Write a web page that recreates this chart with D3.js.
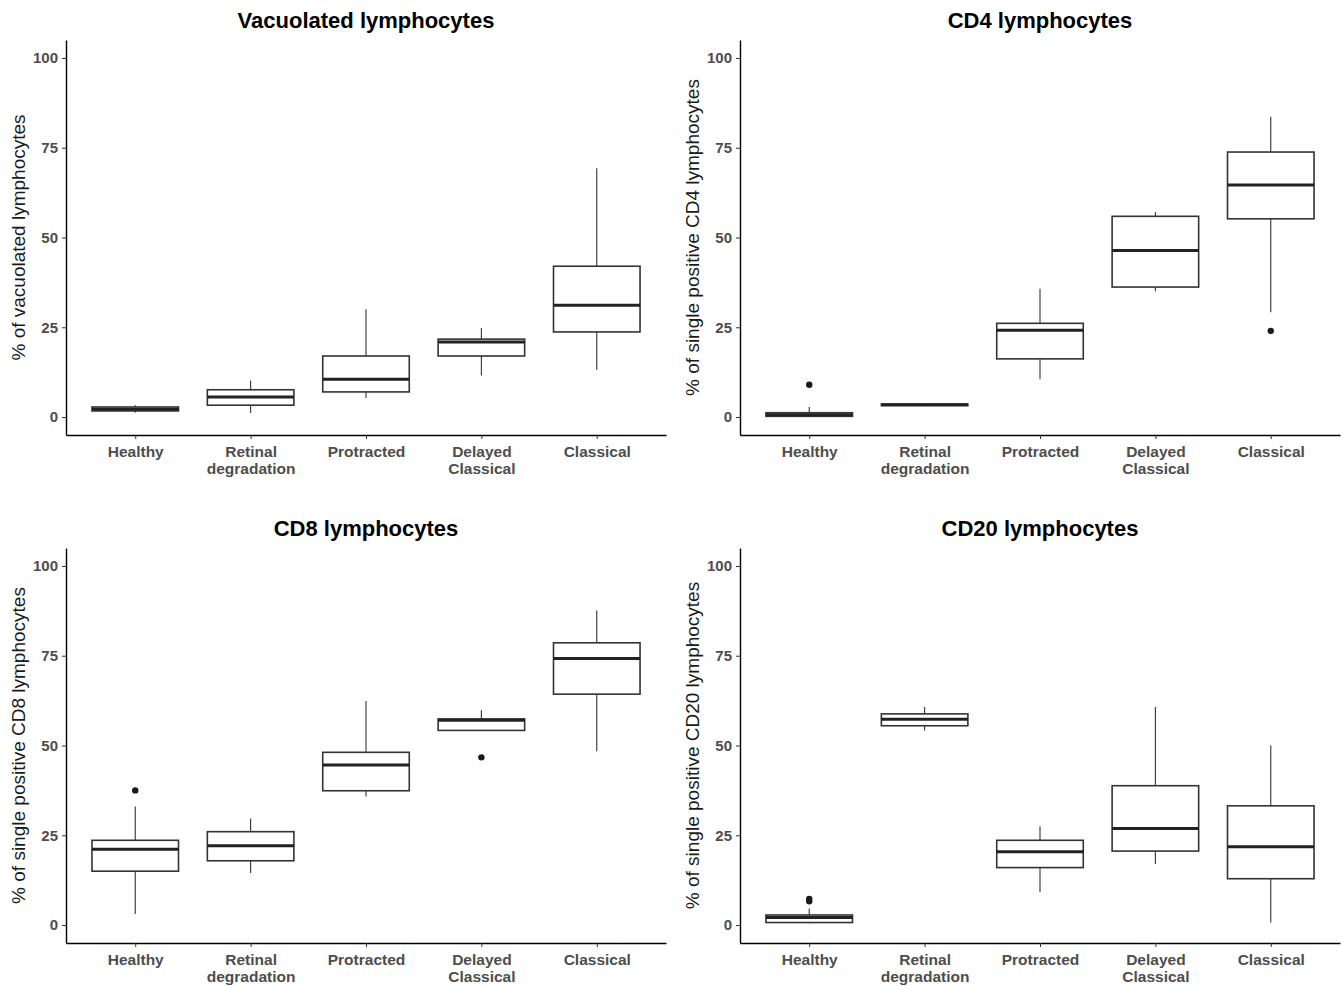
<!DOCTYPE html>
<html>
<head>
<meta charset="utf-8">
<script src="https://cdn.jsdelivr.net/npm/d3@7"></script>
<style>
  body { margin: 0; background: #fff; }
  .tick-lab { font-family: "Liberation Sans", Arial, sans-serif; font-weight: 700; fill: #4d4d4d; }
  .ytitle { font-family: "Liberation Sans", Arial, sans-serif; font-size: 19px; fill: #1a1a1a; }
  .ptitle { font-family: "Liberation Sans", Arial, sans-serif; font-size: 22px; font-weight: 700; fill: #000; }
</style>
</head>
<body>
<script>
// Disease groups on the x axis ("\n" marks a line break in the tick label)
const categories = ["Healthy", "Retinal\ndegradation", "Protracted", "Delayed\nClassical", "Classical"];
const yTicks = [0, 25, 50, 75, 100];

// Box stats per group: [lower whisker, Q1, median, Q3, upper whisker]
const vacuolatedBoxes = [
  [1.2, 1.7, 2.2, 2.8, 3.3],
  [1.1, 3.3, 5.6, 7.6, 10.2],
  [5.3, 7.0, 10.5, 17.0, 30.0],
  [11.6, 17.0, 20.9, 21.7, 24.8],
  [13.2, 23.7, 31.1, 42.0, 69.3],
];
const vacuolatedOutliers = [[], [], [], [], []];

const cd4Boxes = [
  [0.2, 0.2, 0.65, 1.2, 2.8],
  [3.1, 3.2, 3.4, 3.6, 3.7],
  [10.5, 16.2, 24.2, 26.1, 35.7],
  [35.0, 36.2, 46.4, 55.9, 57.1],
  [29.2, 55.2, 64.6, 73.8, 83.6],
];
const cd4Outliers = [[9.0], [], [], [], [24.0]];

const cd8Boxes = [
  [3.1, 15.0, 21.1, 23.6, 33.0],
  [14.5, 17.9, 22.1, 26.0, 29.7],
  [35.8, 37.4, 44.6, 48.1, 62.4],
  [54.2, 54.2, 57.0, 57.4, 59.8],
  [48.4, 64.3, 74.2, 78.6, 87.6],
];
const cd8Outliers = [[37.5], [], [], [46.7], []];

const cd20Boxes = [
  [0.5, 0.7, 2.1, 2.8, 4.6],
  [54.2, 55.5, 57.3, 58.8, 60.7],
  [9.1, 16.0, 20.4, 23.6, 27.5],
  [17.0, 20.6, 26.9, 38.8, 60.7],
  [0.7, 12.9, 21.8, 33.2, 50.0],
];
const cd20Outliers = [[6.6, 7.3], [], [], [], []];

const panels = [
  { title: "Vacuolated lymphocytes", yLabel: "% of vacuolated lymphocytes", boxes: vacuolatedBoxes, outliers: vacuolatedOutliers },
  { title: "CD4 lymphocytes", yLabel: "% of single positive CD4 lymphocytes", boxes: cd4Boxes, outliers: cd4Outliers },
  { title: "CD8 lymphocytes", yLabel: "% of single positive CD8 lymphocytes", boxes: cd8Boxes, outliers: cd8Outliers },
  { title: "CD20 lymphocytes", yLabel: "% of single positive CD20 lymphocytes", boxes: cd20Boxes, outliers: cd20Outliers },
];

const W = 1343, H = 986;
const iw = 600, ih = 395;
const origins = [[66, 40], [740, 40], [66, 548], [740, 548]];

const svg = d3.select("body").append("svg").attr("width", W).attr("height", H);

const x = d3.scalePoint().domain(categories).range([0, iw]).padding(0.6);
const y = d3.scaleLinear().domain([-5, 105]).range([ih, 0]);
const bw = x.step() * 0.75;

panels.forEach((p, i) => {
  const [ox, oy] = origins[i];
  const g = svg.append("g").attr("transform", `translate(${ox},${oy})`);

  // boxes
  const rows = categories.map((c, k) => ({ c, s: p.boxes[k], out: p.outliers[k] }));
  const bx = g.selectAll("g.box").data(rows).join("g").attr("class", "box");
  bx.append("line")
    .attr("x1", (d) => x(d.c)).attr("x2", (d) => x(d.c))
    .attr("y1", (d) => y(d.s[4])).attr("y2", (d) => y(d.s[3]))
    .attr("stroke", "#333").attr("stroke-width", 1.1);
  bx.append("line")
    .attr("x1", (d) => x(d.c)).attr("x2", (d) => x(d.c))
    .attr("y1", (d) => y(d.s[1])).attr("y2", (d) => y(d.s[0]))
    .attr("stroke", "#333").attr("stroke-width", 1.1);
  bx.append("rect")
    .attr("x", (d) => x(d.c) - bw / 2).attr("width", bw)
    .attr("y", (d) => y(d.s[3])).attr("height", (d) => y(d.s[1]) - y(d.s[3]))
    .attr("fill", "#fff").attr("stroke", "#333").attr("stroke-width", 1.6);
  bx.append("line")
    .attr("x1", (d) => x(d.c) - bw / 2).attr("x2", (d) => x(d.c) + bw / 2)
    .attr("y1", (d) => y(d.s[2])).attr("y2", (d) => y(d.s[2]))
    .attr("stroke", "#222").attr("stroke-width", 3);
  bx.selectAll("circle").data((d) => d.out.map((v) => ({ c: d.c, v }))).join("circle")
    .attr("cx", (d) => x(d.c)).attr("cy", (d) => y(d.v)).attr("r", 3.2).attr("fill", "#1a1a1a");

  // axes
  const ya = g.append("g").call(d3.axisLeft(y).tickValues(yTicks).tickSize(4).tickSizeOuter(0).tickPadding(4));
  ya.select(".domain").attr("stroke", "#000").attr("stroke-width", 1.4);
  ya.selectAll(".tick line").attr("stroke", "#333");
  ya.selectAll(".tick text").attr("class", "tick-lab").attr("font-size", 15).attr("fill", null);

  const xa = g.append("g").attr("transform", `translate(0,${ih})`)
    .call(d3.axisBottom(x).tickSize(4).tickSizeOuter(0).tickPadding(5).tickFormat(""));
  xa.select(".domain").attr("stroke", "#000").attr("stroke-width", 1.4);
  xa.selectAll(".tick line").attr("stroke", "#333");
  xa.selectAll(".tick text").each(function (d) {
    const t = d3.select(this).attr("class", "tick-lab").attr("font-size", 15.5).attr("fill", null).attr("dy", null).attr("y", 22);
    d.split("\n").forEach((line, j) => {
      t.append("tspan").attr("x", 0).attr("dy", j === 0 ? 0 : 17).text(line);
    });
  });

  // titles
  g.append("text").attr("class", "ptitle").attr("x", iw / 2).attr("y", -12)
    .attr("text-anchor", "middle").text(p.title);
  g.append("text").attr("class", "ytitle")
    .attr("transform", `translate(-46,${ih / 2}) rotate(-90)`)
    .attr("text-anchor", "middle").attr("dominant-baseline", "middle").text(p.yLabel);
});
</script>
</body>
</html>
